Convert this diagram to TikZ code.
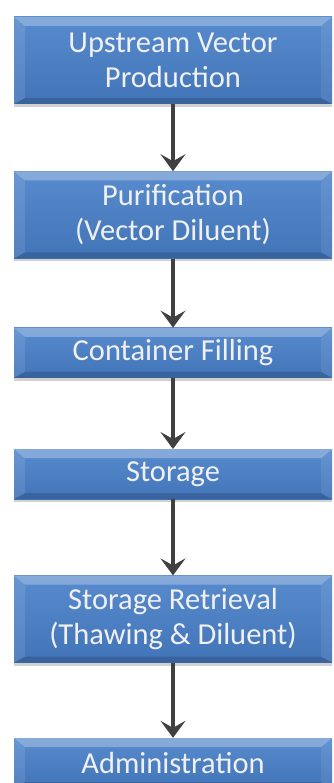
\documentclass[tikz,border=0pt]{standalone}
\usepackage{fontspec}
\setmainfont{Carlito}
\usetikzlibrary{arrows.meta,positioning,shadows}
\definecolor{steptop}{RGB}{88,139,206}
\definecolor{stepbot}{RGB}{66,116,184}
\definecolor{arrgray}{RGB}{64,64,64}
\def\ppbb{path picture bounding box}

\begin{document}
\begin{tikzpicture}[x=1pt, y=1pt,
  stage/.style={minimum width=318pt, inner sep=0pt, text=white!94!black, align=center,
                font=\fontsize{30.5}{35}\selectfont,
                top color=steptop, bottom color=stepbot,
                drop shadow={shadow xshift=0pt, shadow yshift=-3pt, opacity=0.3, fill=black!60},
                path picture={
                  \fill[white, opacity=0.28] (\ppbb.north west) -- (\ppbb.north east)
                    -- ([shift={(-11pt,-9pt)}]\ppbb.north east) -- ([shift={(11pt,-9pt)}]\ppbb.north west) -- cycle;
                  \fill[white, opacity=0.10] (\ppbb.north west) -- ([shift={(11pt,-9pt)}]\ppbb.north west)
                    -- ([shift={(11pt,6pt)}]\ppbb.south west) -- (\ppbb.south west) -- cycle;
                  \fill[white, opacity=0.08] (\ppbb.north east) -- ([shift={(-11pt,-9pt)}]\ppbb.north east)
                    -- ([shift={(-11pt,6pt)}]\ppbb.south east) -- (\ppbb.south east) -- cycle;
                  \fill[black, opacity=0.15] (\ppbb.south west) -- ([shift={(11pt,6pt)}]\ppbb.south west)
                    -- ([shift={(-11pt,6pt)}]\ppbb.south east) -- (\ppbb.south east) -- cycle;
                }},
  tall/.style={stage, minimum height=87pt},
  short/.style={stage, minimum height=50pt},
  arr/.style={-{Stealth[length=17pt, width=25pt, inset=7pt]}, line width=4pt, arrgray}
]
\useasboundingbox (0,0) rectangle (333,-783);

\node[tall] (upstream) at (173,-60.5) {Upstream Vector\\Production};
\node[tall, below=67pt of upstream] (purif) {Purification\\(Vector Diluent)};
\node[short, below=69pt of purif] (filling) {Container Filling};
\node[short, below=71pt of filling] (storage) {Storage};
\node[tall, below=76pt of storage] (retrieval) {Storage Retrieval\\(Thawing \& Diluent)};
\node[short, below=75pt of retrieval] (admin) {Administration};

% process flow
\foreach \from/\to in {upstream/purif, purif/filling, filling/storage,
                       storage/retrieval, retrieval/admin}
  \draw[arr] (\from) -- (\to);
\end{tikzpicture}
\end{document}
